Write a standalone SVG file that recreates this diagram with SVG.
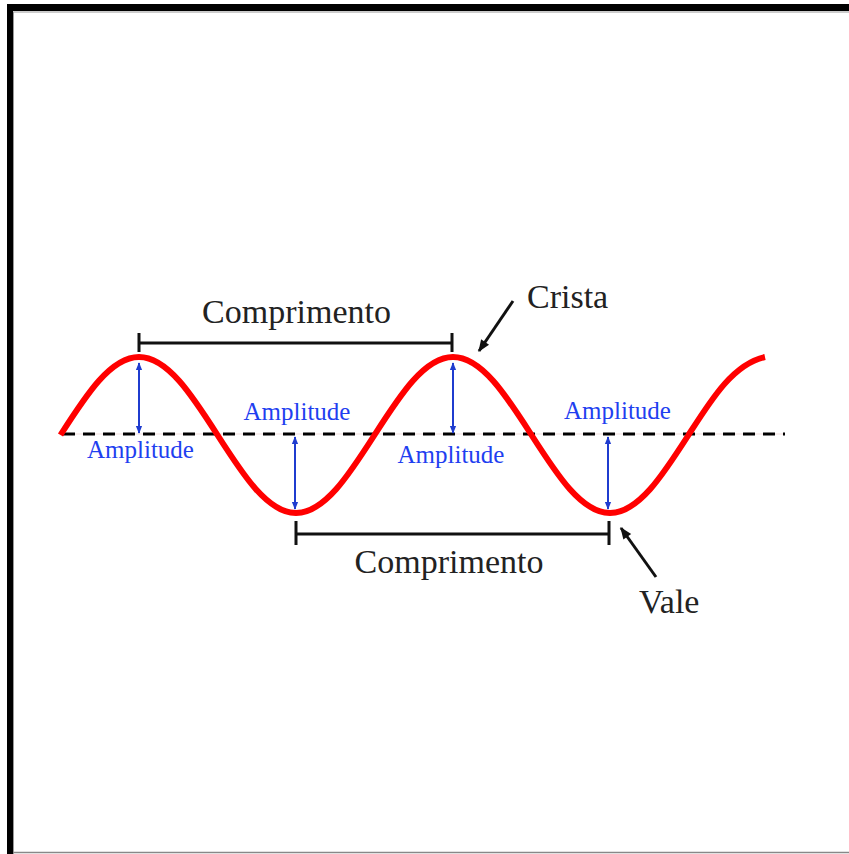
<svg xmlns="http://www.w3.org/2000/svg" width="849" height="854" viewBox="0 0 849 854">
<defs>
<style>
.lbl{font-family:"Liberation Serif","Times New Roman",serif;fill:#222;font-size:34px}
.amp{font-family:"Liberation Serif","Times New Roman",serif;fill:#1f3ff0;font-size:25px;text-anchor:middle}
.bar{stroke:#111;stroke-width:3;fill:none}
.blue{stroke:#1f3ccf;stroke-width:2;fill:none;marker-start:url(#bh);marker-end:url(#bh)}
.ptr{stroke:#111;stroke-width:3;fill:none;marker-end:url(#kh)}
</style>
<marker id="bh" viewBox="0 0 10 10" refX="9" refY="5" markerWidth="8" markerHeight="8" markerUnits="userSpaceOnUse" orient="auto-start-reverse">
<path d="M0,1 L10,5 L0,9 Z" fill="#1f3ccf"/>
</marker>
<marker id="kh" viewBox="0 0 10 10" refX="9" refY="5" markerWidth="14" markerHeight="12" markerUnits="userSpaceOnUse" orient="auto">
<path d="M0,1 L10,5 L0,9 Z" fill="#111"/>
</marker>
</defs>
<rect width="849" height="854" fill="#fff"/>
<g id="frame">
<rect x="7" y="4" width="842" height="7" fill="#000"/>
<rect x="7" y="4" width="6" height="850" fill="#000"/>
<line x1="13" y1="12" x2="849" y2="12" stroke="#999" stroke-width="1"/>
<line x1="13.5" y1="12" x2="13.5" y2="854" stroke="#999" stroke-width="1"/>
<line x1="13" y1="852.5" x2="849" y2="852.5" stroke="#888" stroke-width="1.5"/>
</g>
<g id="axis">
<line x1="63" y1="434" x2="785" y2="434" stroke="#f2dede" stroke-width="1"/>
<line x1="63" y1="434" x2="785" y2="434" stroke="#000" stroke-width="3" stroke-dasharray="12 8"/>
</g>
<g id="wave">
<path d="M60.5,435 C86.1,395 110.6,357 139,357 C167.4,357 191.9,395 217.5,435 C243.1,475 267.6,513 296,513 C324.4,513 348.9,475 374.5,435 C400.1,395 424.6,357 453,357 C481.4,357 505.9,395 531.5,435 C557.1,475 581.6,513 610,513 C638.4,513 662.9,475 688.5,435 C711,400 733,364 765,357" fill="none" stroke="#f00" stroke-width="6"/>
</g>
<g id="connectors">
<path class="bar" d="M139,343 H452 M139,333 V352 M452,333 V352"/>
<path class="bar" d="M296,534 H609 M296,521 V545 M609,521 V545"/>
<line class="blue" x1="139" y1="363" x2="139" y2="433"/>
<line class="blue" x1="453" y1="363" x2="453" y2="433"/>
<line class="blue" x1="295" y1="437" x2="295" y2="509"/>
<line class="blue" x1="608" y1="437" x2="608" y2="509"/>
<line class="ptr" x1="513" y1="301" x2="479" y2="351"/>
<line class="ptr" x1="656" y1="577" x2="621" y2="528"/>
</g>
<g id="comprimento-top"><text class="lbl" x="296.5" y="323" text-anchor="middle">Comprimento</text></g>
<g id="comprimento-bottom"><text class="lbl" x="449" y="573" text-anchor="middle">Comprimento</text></g>
<g id="crista"><text class="lbl" x="527" y="308">Crista</text></g>
<g id="vale"><text class="lbl" x="639" y="613">Vale</text></g>
<g id="amp1"><text class="amp" x="140.5" y="458">Amplitude</text></g>
<g id="amp2"><text class="amp" x="297" y="420">Amplitude</text></g>
<g id="amp3"><text class="amp" x="451" y="463">Amplitude</text></g>
<g id="amp4"><text class="amp" x="617.5" y="419">Amplitude</text></g>
</svg>
